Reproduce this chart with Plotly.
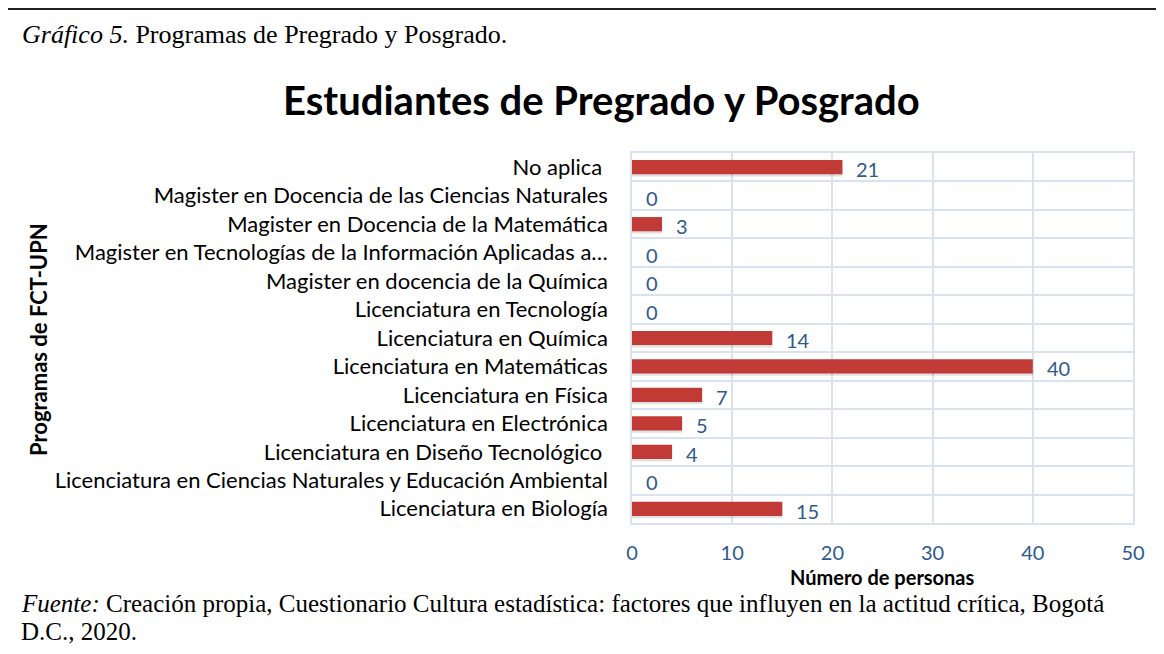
import plotly.graph_objects as go

# ---- data (bottom to top, as in the chart's category order) ----
categories = [
    "Licenciatura en Biología",
    "Licenciatura en Ciencias Naturales y Educación Ambiental",
    "Licenciatura en Diseño Tecnológico ",
    "Licenciatura en Electrónica",
    "Licenciatura en Física",
    "Licenciatura en Matemáticas",
    "Licenciatura en Química",
    "Licenciatura en Tecnología",
    "Magister en docencia de la Química",
    "Magister en Tecnologías de la Información Aplicadas a…",
    "Magister en Docencia de la Matemática",
    "Magister en Docencia de las Ciencias Naturales",
    "No aplica ",
]
values = [15, 0, 4, 5, 7, 40, 14, 0, 0, 0, 3, 0, 21]
x_ticks = [0, 10, 20, 30, 40, 50]

title_text = "Estudiantes de Pregrado y Posgrado"
x_title = "Número de personas"
y_title = "Programas de FCT-UPN"
caption_top = "<i>Gráfico 5.</i> Programas de Pregrado y Posgrado."
caption_bottom_1 = ("<i>Fuente:</i> Creación propia, Cuestionario Cultura estadística: "
                    "factores que influyen en la actitud crítica, Bogotá")
caption_bottom_2 = "D.C., 2020."

# ---- layout geometry (page pixels; the page body adds an 8px margin) ----
OFF = 8
W, H = 1164 - 2 * OFF, 654 - 2 * OFF
L, R, T, B = 632 - OFF, 1133 - OFF, 153 - OFF, 523 - OFF
pw, ph = R - L, B - T


def px(x):
    return (x - OFF - L) / pw


def py(y):
    return (B - (y - OFF)) / ph


SANS = "Lato, 'Open Sans', sans-serif"
SERIF = "'Liberation Serif', 'Times New Roman', serif"
GRID = "#D9E3F0"
BLUE = "#2E5A8E"
BAR = "#C23A36"

idx = list(range(len(categories)))

fig = go.Figure()
# subtle shadow under the bars
fig.add_trace(go.Bar(
    x=values, y=[i - 0.08 for i in idx], orientation="h", width=0.5,
    marker=dict(color="rgba(0,0,0,0.12)", line=dict(width=0)),
    hoverinfo="skip", showlegend=False,
))
fig.add_trace(go.Bar(
    x=values, y=idx, orientation="h", width=0.5,
    marker=dict(color=BAR, line=dict(width=0)),
    showlegend=False,
))

annotations = []
for v, i in zip(values, idx):
    annotations.append(dict(
        x=v, y=i, xref="x", yref="y", text=str(v), showarrow=False,
        xanchor="left", yanchor="middle", xshift=12, yshift=-2,
        font=dict(family=SANS, size=20, color=BLUE),
    ))

annotations += [
    dict(x=px(601), y=py(100), xref="paper", yref="paper", text=f"<b>{title_text}</b>",
         showarrow=False, xanchor="center", yanchor="middle",
         font=dict(family=SANS, size=40, color="#000000")),
    dict(x=px(882), y=py(577), xref="paper", yref="paper", text=f"<b>{x_title}</b>",
         showarrow=False, xanchor="center", yanchor="middle", borderpad=0,
         font=dict(family=SANS, size=20, color="#000000")),
    dict(x=px(38), y=py(340), xref="paper", yref="paper", text=f"<b>{y_title}</b>",
         showarrow=False, xanchor="center", yanchor="middle", textangle=-90,
         font=dict(family=SANS, size=22, color="#000000")),
    dict(x=px(20), y=py(35), xref="paper", yref="paper", text=caption_top,
         showarrow=False, xanchor="left", yanchor="middle",
         font=dict(family=SERIF, size=26, color="#000000")),
    dict(x=px(20), y=py(603), xref="paper", yref="paper", text=caption_bottom_1,
         showarrow=False, xanchor="left", yanchor="middle", borderpad=0,
         font=dict(family=SERIF, size=25, color="#000000")),
    dict(x=px(20), y=py(631), xref="paper", yref="paper", text=caption_bottom_2,
         showarrow=False, xanchor="left", yanchor="middle", borderpad=0,
         font=dict(family=SERIF, size=25, color="#000000")),
]

shapes = [
    dict(type="line", xref="paper", yref="paper", x0=px(OFF), x1=px(W + OFF),
         y0=py(OFF + 1), y1=py(OFF + 1),
         line=dict(color="#222222", width=2)),
]

fig.update_layout(
    width=W, height=H,
    margin=dict(l=L, r=W - R, t=T, b=H - B, autoexpand=False),
    paper_bgcolor="white", plot_bgcolor="white",
    barmode="overlay",
    annotations=annotations, shapes=shapes,
    showlegend=False,
)
fig.update_xaxes(
    range=[0, 50], tickvals=x_ticks, ticktext=[str(t) for t in x_ticks],
    showgrid=True, gridcolor=GRID, gridwidth=1.5,
    zeroline=False, showline=True, linecolor=GRID, linewidth=1.5, mirror=True,
    ticks="outside", ticklen=11, tickcolor="rgba(0,0,0,0)",
    tickfont=dict(family=SANS, size=20, color=BLUE), automargin=False,
)
fig.update_yaxes(
    range=[-0.5, len(categories) - 0.5], tickvals=idx, ticktext=categories,
    showgrid=False, zeroline=False,
    showline=True, linecolor=GRID, linewidth=1.5, mirror=True,
    minor=dict(tick0=0.5, dtick=1, showgrid=True, gridcolor=GRID, gridwidth=1.5),
    ticks="outside", ticklen=18, tickcolor="rgba(0,0,0,0)",
    tickfont=dict(family=SANS, size=22, color="#000000"), automargin=False,
)

fig.write_html("out.html")
